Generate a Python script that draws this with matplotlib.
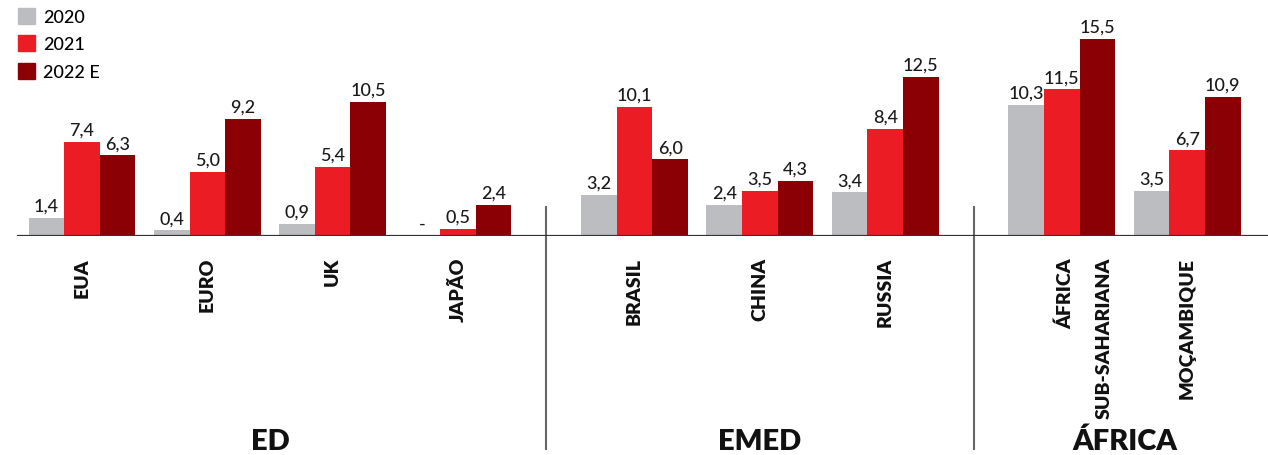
import matplotlib
matplotlib.use('Agg')
import matplotlib.pyplot as plt
import numpy as np
from matplotlib.transforms import blended_transform_factory, ScaledTranslation
from matplotlib.patches import Patch

categories = ['EUA', 'EURO', 'UK', 'JAPÃO', 'BRASIL', 'CHINA', 'RUSSIA',
              'ÁFRICA\nSUB-SAHARIANA', 'MOÇAMBIQUE']
groups = ['ED', 'EMED', 'ÁFRICA']
group_of = [0, 0, 0, 0, 1, 1, 1, 2, 2]
series_names = ['2020', '2021', '2022 E']
v2020 = [1.4, 0.4, 0.9, None, 3.2, 2.4, 3.4, 10.3, 3.5]
v2021 = [7.4, 5.0, 5.4, 0.5, 10.1, 3.5, 8.4, 11.5, 6.7]
v2022 = [6.3, 9.2, 10.5, 2.4, 6.0, 4.3, 12.5, 15.5, 10.9]
colors = ['#BCBDC0', '#EC1C24', '#8B0005']

plt.rcParams['font.family'] = ['Lato', 'DejaVu Sans']

W, H = 1268, 456
fig = plt.figure(figsize=(W / 100, H / 100), dpi=100)
base_px = 236.5
px_per_unit = 12.7
y0 = (H - base_px) / H
ax = fig.add_axes([0, y0, 1, 1 - y0])
ax.set_ylim(0, base_px / px_per_unit)

unit_px = 125.3
first_px = 82.0
gap = 0.41
pos = np.arange(len(categories)) + np.array(group_of) * gap
ax.set_xlim(-first_px / unit_px, (W - first_px) / unit_px)
bw = 0.284

series = [v2020, v2021, v2022]
for k, (vals, col, name) in enumerate(zip(series, colors, series_names)):
    h = [0 if v is None else v for v in vals]
    bars = ax.bar(pos + (k - 1) * bw, h, width=bw, color=col, label=name, zorder=2)
    labels = ['-' if v is None else f'{v:.1f}'.replace('.', ',') for v in vals]
    ax.bar_label(bars, labels=labels, padding=3, fontsize=13, fontweight='medium',
                 color='#1a1a1a')

ax.axhline(0, xmin=18 / W, xmax=1, color='#333333', lw=1.6, zorder=3)
ax.axis('off')

tr = blended_transform_factory(ax.transData, fig.transFigure)
label_top = (H - 258) / H
for p, lab in zip(pos, categories):
    lines = lab.split('\n')
    for i, line in enumerate(lines):
        off = ScaledTranslation(i * 38 / 100 + (4 / 100 if len(lines) > 1 else 0), 0, fig.dpi_scale_trans)
        ax.text(p, label_top, line, transform=tr + off, rotation=90, ha='center', va='top',
                fontsize=14, fontweight='heavy', color='#111111')

g = np.array(group_of)
for gi, gname in enumerate(groups):
    cx = pos[g == gi].mean()
    ax.text(cx, (H - 450) / H, gname, transform=tr, ha='center', va='baseline',
            fontsize=21, fontweight='heavy', color='#111111')

for gi in range(len(groups) - 1):
    sx = (pos[g == gi].max() + pos[g == gi + 1].min()) / 2
    ax.plot([sx, sx], [(H - 208) / H, (H - 450) / H], transform=tr, color='#666666',
            lw=1.5, clip_on=False)

handles = [Patch(color=c, label=n) for c, n in zip(colors, series_names)]
fig.legend(handles=handles, loc='upper left', bbox_to_anchor=(18 / W, 1 - 9 / H),
           frameon=False, prop={'size': 13, 'weight': 'medium'},
           handlelength=0.95, handleheight=0.95,
           handletextpad=0.45, labelspacing=0.58, borderpad=0, borderaxespad=0)

fig.savefig('out.png', dpi=100)
